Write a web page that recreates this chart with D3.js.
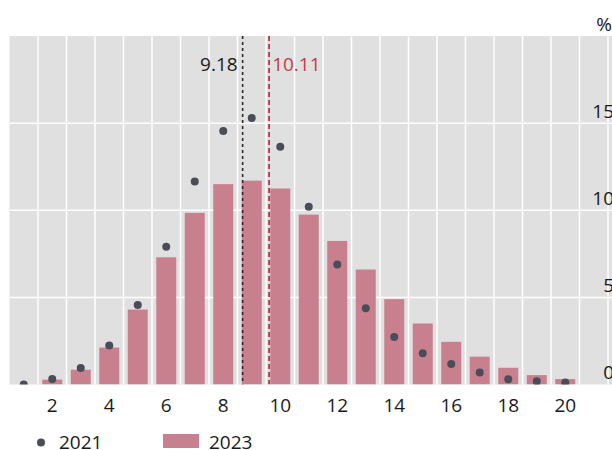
<!DOCTYPE html>
<html><head><meta charset="utf-8">
<script src="https://cdn.jsdelivr.net/npm/d3@7"></script>
<style>body{margin:0;background:#fff}svg{display:block}text{font-family:"Open Sans",sans-serif}</style>
</head><body><svg id="c" width="612" height="450"></svg>
<script>
const categories = [1,2,3,4,5,6,7,8,9,10,11,12,13,14,15,16,17,18,19,20];
const values2023 = [0,0.28,0.85,2.12,4.3,7.3,9.85,11.5,11.7,11.25,9.75,8.24,6.6,4.9,3.5,2.45,1.6,0.96,0.54,0.31];
const values2021 = [0,0.32,0.95,2.24,4.56,7.9,11.65,14.55,15.3,13.65,10.2,6.88,4.37,2.72,1.8,1.17,0.69,0.3,0.18,0.11];
const xTicks = [2,4,6,8,10,12,14,16,18,20];
const yTicks = [0,5,10,15];
const refLines = [{value:9.18,label:"9.18",cls:"a"},{value:10.11,label:"10.11",cls:"b"}];
const legendLabels = ["2021","2023"];

const W=612,H=450;
const svg=d3.select("#c");
const x=d3.scaleLinear().domain([1,21]).range([9.5,579.5]);
const y=d3.scaleLinear().domain([0,20]).range([384.5,36]);
const step=x(2)-x(1);
const fs=19;

svg.append("defs").append("clipPath").attr("id","clip").append("rect")
  .attr("x",x(1)).attr("y",y(20)).attr("width",W-x(1)).attr("height",y(0)-y(20));

svg.append("rect").attr("x",x(1)).attr("y",y(20)).attr("width",W-x(1)).attr("height",y(0)-y(20)).attr("fill","#e0e0e0");

const g=svg.append("g").attr("clip-path","url(#clip)");
// grid
g.selectAll("line.v").data(d3.range(2,23)).join("line").attr("class","v")
  .attr("x1",d=>x(d)).attr("x2",d=>x(d)).attr("y1",y(20)).attr("y2",y(0))
  .attr("stroke","#fff").attr("stroke-width",1.5);
g.selectAll("line.h").data(yTicks.filter(d=>d>0)).join("line").attr("class","h")
  .attr("x1",x(1)).attr("x2",W).attr("y1",d=>y(d)).attr("y2",d=>y(d))
  .attr("stroke","#fff").attr("stroke-width",1.5);

// bars
const bw=20;
g.selectAll("rect.bar").data(categories).join("rect").attr("class","bar")
  .attr("x",(d)=>x(d)+(step-bw)/2).attr("width",bw)
  .attr("y",(d,i)=>y(values2023[i])).attr("height",(d,i)=>y(0)-y(values2023[i]))
  .attr("fill","#c8808f");

// reference lines
g.selectAll("line.ref").data(refLines).join("line").attr("class","ref")
  .attr("x1",d=>x(d.value)).attr("x2",d=>x(d.value)).attr("y1",y(20)).attr("y2",y(0))
  .attr("stroke",d=>d.cls==="a"?"#2a2a2a":"#c0303c")
  .attr("stroke-width",d=>d.cls==="a"?1.6:1.8)
  .attr("stroke-dasharray",d=>d.cls==="a"?"3,3":"5,3");

// dots
g.selectAll("circle.dot").data(categories).join("circle").attr("class","dot")
  .attr("cx",d=>x(d+0.5)).attr("cy",(d,i)=>y(values2021[i])).attr("r",4)
  .attr("fill","#4a4d58");

// ref labels
svg.selectAll("text.rl").data(refLines).join("text").attr("class","rl")
  .attr("x",d=>d.cls==="a"?x(d.value)-5:x(d.value)+3)
  .attr("y",71).attr("text-anchor",d=>d.cls==="a"?"end":"start")
  .attr("font-size",fs).attr("fill",d=>d.cls==="a"?"#1a1a1a":"#c23b48")
  .text(d=>d.label);

// x axis labels
svg.selectAll("text.xt").data(xTicks).join("text").attr("class","xt")
  .attr("x",d=>x(d+0.5)).attr("y",412).attr("text-anchor","middle")
  .attr("font-size",fs).attr("fill","#1a1a1a").text(d=>d);

// y axis labels
svg.selectAll("text.yt").data(yTicks).join("text").attr("class","yt")
  .attr("x",614).attr("y",d=>y(d)-5.5).attr("text-anchor","end")
  .attr("font-size",fs).attr("fill","#1a1a1a").text(d=>d);
svg.append("text").attr("x",612).attr("y",31).attr("text-anchor","end")
  .attr("font-size",fs).attr("fill","#1a1a1a").text("%");

// legend
svg.append("circle").attr("cx",41).attr("cy",442.5).attr("r",4).attr("fill","#4a4d58");
svg.append("text").attr("x",59).attr("y",449).attr("font-size",fs).attr("fill","#1a1a1a").text(legendLabels[0]);
svg.append("rect").attr("x",163).attr("y",434).attr("width",36).attr("height",14).attr("fill","#c8808f");
svg.append("text").attr("x",209).attr("y",449).attr("font-size",fs).attr("fill","#1a1a1a").text(legendLabels[1]);
</script></body></html>
